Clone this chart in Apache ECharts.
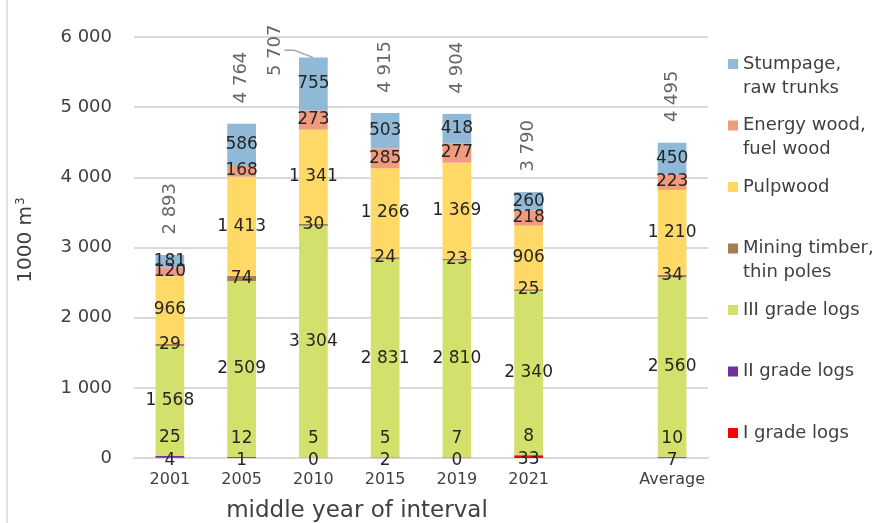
<!DOCTYPE html>
<html>
<head>
<meta charset="utf-8">
<script src="https://cdn.jsdelivr.net/npm/echarts@6/dist/echarts.min.js"></script>
<style>
  html, body { margin: 0; padding: 0; background: #fff; }
  #chart { width: 887px; height: 523px; }
</style>
</head>
<body>
<div id="chart"></div>
<script>
// Roundwood removals by assortment, 1000 m3
const categories = ['2001', '2005', '2010', '2015', '2019', '2021', '', 'Average'];

const gradeI      = [4, 1, 0, 2, 0, 33, null, 7];
const gradeII     = [25, 12, 5, 5, 7, 8, null, 10];
const gradeIII    = [1568, 2509, 3304, 2831, 2810, 2340, null, 2560];
const miningPoles = [29, 74, 30, 24, 23, 25, null, 34];
const pulpwood    = [966, 1413, 1341, 1266, 1369, 906, null, 1210];
const energyWood  = [120, 168, 273, 285, 277, 218, null, 223];
const stumpage    = [181, 586, 755, 503, 418, 260, null, 450];
const totals      = [2893, 4764, 5707, 4915, 4904, 3790, null, 4495];

const yTicks = { min: 0, max: 6000, interval: 1000 };

const FONT = 'DejaVu Sans';
const TEXT = '#404040';

function fmt(v) {
  return String(v).replace(/\B(?=(\d{3})+(?!\d))/g, ' ');
}

// legend names shown on two lines; single-line names get a blank second line
const legendText = {
  'Stumpage, raw trunks': 'Stumpage,\nraw trunks',
  'Energy wood, fuel wood': 'Energy wood,\nfuel wood',
  'Pulpwood': 'Pulpwood\n\u00a0',
  'Mining timber, thin poles': 'Mining timber,\nthin poles',
  'III grade logs': 'III grade logs\n\u00a0',
  'II grade logs': 'II grade logs\n\u00a0',
  'I grade logs': 'I grade logs\n\u00a0'
};

// square swatch aligned with the first text line of a 48px-tall legend item
const swatch = 'path://M0,0L10,0L10,0.01L0,0.01Z M0,7L10,7L10,17L0,17Z M0,47.99L10,47.99L10,48L0,48Z';

function barSeries(name, data, color, labelOffset) {
  return {
    name: name,
    type: 'bar',
    stack: 'total',
    data: data,
    barWidth: '40%',
    itemStyle: { color: color },
    label: {
      show: true,
      position: 'inside',
      offset: labelOffset || [0, 0],
      color: '#262626',
      fontFamily: FONT,
      fontSize: 17,
      formatter: p => fmt(p.value)
    },
    emphasis: { disabled: true }
  };
}

// the 2010 total is pulled aside and joined to its bar by a leader line
const totalPoints = totals.map((v, i) => {
  if (v == null) return null;
  const item = { value: [i, v] };
  if (i === 2) item.labelLine = { show: true };
  return item;
});

const chart = echarts.init(document.getElementById('chart'));

chart.setOption({
  animation: false,
  backgroundColor: '#ffffff',
  grid: { left: 134, right: 179, top: 37, bottom: 65, outerBoundsMode: 'none', containLabel: false },
  graphic: [{
    type: 'line',
    shape: { x1: 7, y1: 0, x2: 7, y2: 523 },
    style: { stroke: '#d9d9d9', lineWidth: 1.5 }
  }],
  legend: {
    orient: 'vertical',
    left: 723,
    top: 47,
    itemWidth: 10,
    itemHeight: 48,
    itemGap: 13.5,
    icon: swatch,
    selectedMode: false,
    data: ['Stumpage, raw trunks', 'Energy wood, fuel wood', 'Pulpwood',
           'Mining timber, thin poles', 'III grade logs', 'II grade logs', 'I grade logs'],
    formatter: n => legendText[n],
    textStyle: { fontFamily: FONT, fontSize: 18, lineHeight: 24, color: TEXT }
  },
  xAxis: {
    type: 'category',
    data: categories,
    name: 'middle year of interval',
    nameLocation: 'middle',
    nameGap: 42,
    nameTextStyle: { fontFamily: FONT, fontSize: 23, color: TEXT, padding: [0, 128, 0, 0] },
    axisLine: { show: true, lineStyle: { color: '#d9d9d9', width: 2 } },
    axisTick: { show: false },
    axisLabel: { fontFamily: FONT, fontSize: 16, color: TEXT, margin: 14, interval: 0 }
  },
  yAxis: {
    type: 'value',
    min: yTicks.min,
    max: yTicks.max,
    interval: yTicks.interval,
    name: '1000 m{sup|3}',
    nameLocation: 'middle',
    nameGap: 97,
    nameTextStyle: {
      fontFamily: FONT, fontSize: 20, color: TEXT, padding: [0, 0, 0, 15],
      rich: { sup: { fontFamily: FONT, fontSize: 12, color: TEXT, verticalAlign: 'top', padding: [0, 0, 10, 1] } }
    },
    axisLine: { show: false },
    axisTick: { show: false },
    splitLine: { lineStyle: { color: '#d9d9d9', width: 2 } },
    axisLabel: { fontFamily: FONT, fontSize: 18, color: TEXT, margin: 22, formatter: v => fmt(v) }
  },
  series: [
    barSeries('I grade logs', gradeI, '#ff0000', [0, 3]),
    barSeries('II grade logs', gradeII, '#7030a0', [0, -19]),
    barSeries('III grade logs', gradeIII, '#d3e06c'),
    barSeries('Mining timber, thin poles', miningPoles, '#a67c52'),
    barSeries('Pulpwood', pulpwood, '#ffd966'),
    barSeries('Energy wood, fuel wood', energyWood, '#f09b7d'),
    barSeries('Stumpage, raw trunks', stumpage, '#8fb9d6'),
    {
      name: 'Total',
      type: 'scatter',
      data: totalPoints,
      symbolSize: 1,
      itemStyle: { color: 'rgba(0,0,0,0)' },
      silent: true,
      label: {
        show: true,
        position: 'top',
        distance: 20,
        rotate: 90,
        align: 'left',
        verticalAlign: 'middle',
        fontFamily: FONT,
        fontSize: 18,
        color: TEXT,
        formatter: p => fmt(p.value[1])
      },
      labelLine: { show: false, length2: 10, lineStyle: { color: '#a6a6a6', width: 1.5 } },
      labelLayout: p => (p.dataIndex === 2 ? { dx: -39, dy: -38 } : {})
    }
  ]
});
</script>
</body>
</html>
